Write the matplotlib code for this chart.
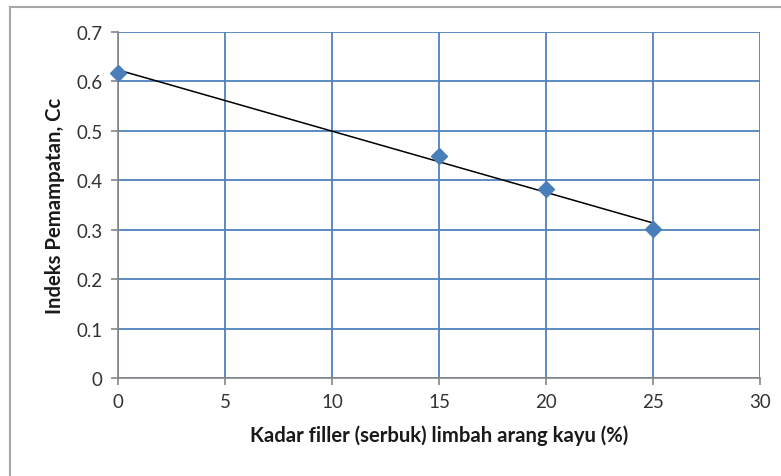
import numpy as np
import matplotlib
matplotlib.use('Agg')
import matplotlib.pyplot as plt
from matplotlib.lines import Line2D

# data
kadar = [0, 15, 20, 25]
cc = [0.617, 0.450, 0.382, 0.301]
xticks = [0, 5, 10, 15, 20, 25, 30]
yticks = [0, 0.1, 0.2, 0.3, 0.4, 0.5, 0.6, 0.7]

plt.rcParams['font.family'] = ['Lato', 'DejaVu Sans']

fig = plt.figure(figsize=(7.81, 4.77), dpi=100, facecolor='white')
ax = fig.add_axes([118/781, 1-379/477, (760-118)/781, (379-33)/477])

blue = '#4f81bd'
grey = '#868686'

# grid
ax.set_xlim(0, 30)
ax.set_ylim(0, 0.7)
ax.set_xticks(xticks)
ax.set_yticks(yticks)
ax.set_yticklabels(['0' if v == 0 else f'{v:.1f}' for v in yticks])
ax.grid(True, color=blue, lw=1.3, zorder=0)
ax.set_axisbelow(True)

for s in ('top', 'right'):
    ax.spines[s].set_visible(False)
for s in ('left', 'bottom'):
    ax.spines[s].set_color(grey)
    ax.spines[s].set_linewidth(1.2)
    ax.spines[s].set_zorder(2)

ax.tick_params(direction='out', length=5, width=1.2, color=grey,
               labelsize=13.5, labelcolor='#333333', pad=6)

# trendline (least squares)
k, b = np.polyfit(kadar, cc, 1)
xt = np.array([min(kadar), max(kadar)])
ax.plot(xt, k*xt + b, color='black', lw=1.1, zorder=3)

ax.plot(kadar, cc, ls='none', marker='D', ms=8.5, color='#4a7ebb',
        mec='#4a7ebb', zorder=4, clip_on=False)

ax.set_xlabel('Kadar filler (serbuk) limbah arang kayu (%)', fontsize=14.6,
              fontweight='bold', color='#1a1a1a', labelpad=10)
ax.set_ylabel('Indeks Pemampatan, Cc', fontsize=14.6, fontweight='bold',
              color='#1a1a1a', labelpad=8)

# outer chart frame (partially visible)
fy = 1 - 7.5/477
fx = 9.5/781
fig.add_artist(Line2D([fx, fx], [0, fy], transform=fig.transFigure,
                      color='#a6a6a6', lw=1.5))
fig.add_artist(Line2D([fx, 1], [fy, fy], transform=fig.transFigure,
                      color='#a6a6a6', lw=1.5))

fig.savefig('out.png', dpi=100, facecolor='white')
